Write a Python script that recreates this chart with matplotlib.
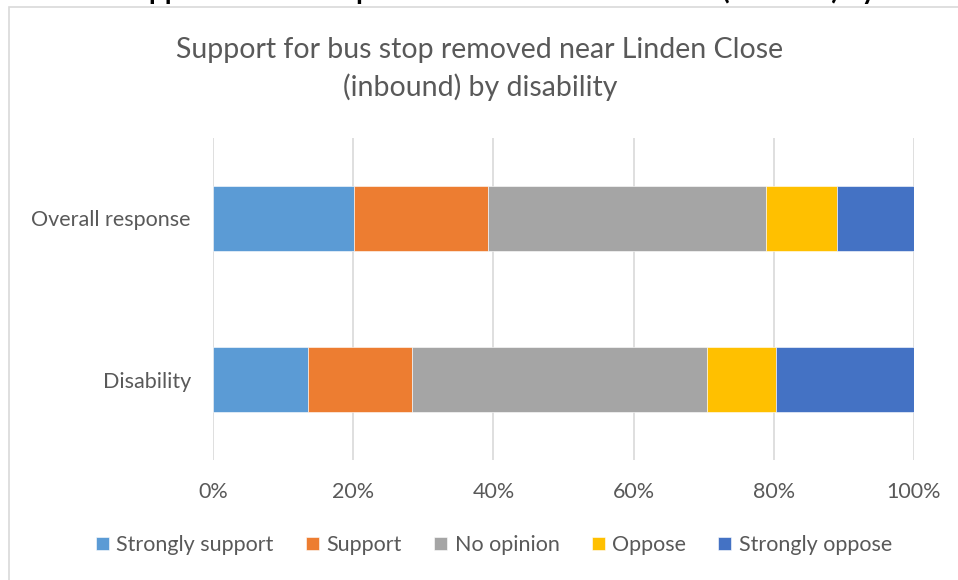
import matplotlib
matplotlib.use("Agg")
import matplotlib.pyplot as plt
from matplotlib.patches import Rectangle
from matplotlib.ticker import FuncFormatter

categories = ["Overall response", "Disability"]
series_names = ["Strongly support", "Support", "No opinion", "Oppose", "Strongly oppose"]
strongly_support = [20.1, 13.5]
support = [19.1, 14.9]
no_opinion = [39.7, 42.0]
oppose = [10.1, 9.9]
strongly_oppose = [11.0, 19.7]
series_values = [strongly_support, support, no_opinion, oppose, strongly_oppose]
colors = ["#5B9BD5", "#ED7D31", "#A5A5A5", "#FFC000", "#4472C4"]
x_ticks = [0, 20, 40, 60, 80, 100]

plt.rcParams["font.family"] = ["Lato", "DejaVu Sans"]
text_color = "#595959"
label_size = 15.5

W, H = 958, 580
fig = plt.figure(figsize=(W / 100, H / 100), dpi=100)

# document heading sitting just above the chart, only its descenders fall inside
fig.text(497 / W, 1 + 1 / H, "Support for bus stop removed near Linden Close (inbound) by",
         ha="center", va="baseline", fontsize=20, fontweight="bold", color="black")

# chart frame
fig.patches.append(Rectangle((9 / W, -0.1), 1.2, 1 - 7 / H + 0.1, transform=fig.transFigure,
                             fill=False, edgecolor="#D9D9D9", linewidth=1.2))

ax = fig.add_axes([213 / W, 1 - 460 / H, (914 - 213) / W, (460 - 138) / H])

ypos = list(range(len(categories)))
left = [0.0] * len(categories)
for name, vals, col in zip(series_names, series_values, colors):
    ax.barh(ypos, vals, left=left, height=0.4, color=col, label=name,
            edgecolor="white", linewidth=0.4, zorder=3)
    left = [l + v for l, v in zip(left, vals)]

ax.set_xlim(0, 100)
ax.set_ylim(1.5, -0.5)
ax.set_xticks(x_ticks)
ax.xaxis.set_major_formatter(FuncFormatter(lambda v, p: f"{v:.0f}%"))
ax.set_yticks(ypos)
ax.set_yticklabels(categories)
ax.grid(axis="x", color="#D9D9D9", linewidth=1.2, zorder=0)
for s in ax.spines.values():
    s.set_visible(False)
ax.tick_params(axis="both", length=0, colors=text_color, labelsize=label_size)
ax.tick_params(axis="x", pad=16)
ax.tick_params(axis="y", pad=16)

fig.text(480 / W, 1 - 69 / H, "Support for bus stop removed near Linden Close\n(inbound) by disability",
         ha="center", va="center", fontsize=20.5, color=text_color, linespacing=1.5)

handles, labels = ax.get_legend_handles_labels()
fig.legend(handles, labels, loc="center", bbox_to_anchor=(494 / W, 1 - 545 / H), ncol=5,
           frameon=False, fontsize=label_size, labelcolor=text_color, handlelength=0.6,
           handleheight=0.6, handletextpad=0.35, columnspacing=1.5)

fig.savefig("out.png", dpi=100)
